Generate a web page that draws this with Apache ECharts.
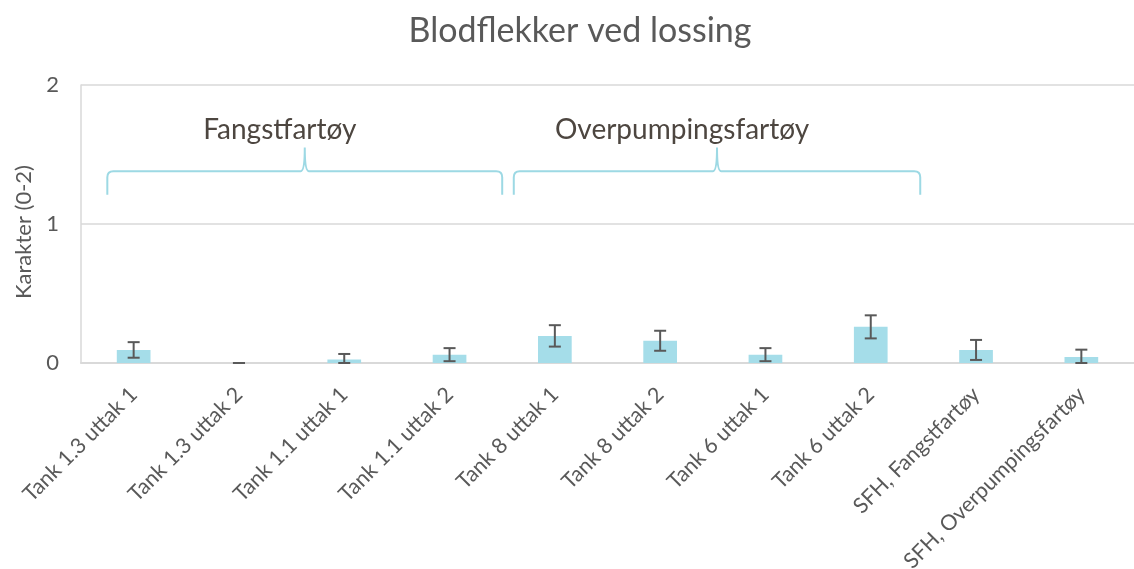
<!DOCTYPE html>
<html><head><meta charset="utf-8">
<script src="https://cdn.jsdelivr.net/npm/echarts@6/dist/echarts.min.js"></script>
<style>html,body{margin:0;padding:0;background:#fff}#c{width:1134px;height:569px}</style>
</head><body><div id="c"></div>
<script>
const categories = ["Tank 1.3 uttak 1","Tank 1.3 uttak 2","Tank 1.1 uttak 1","Tank 1.1 uttak 2","Tank 8 uttak 1","Tank 8 uttak 2","Tank 6 uttak 1","Tank 6 uttak 2","SFH, Fangstfartøy","SFH, Overpumpingsfartøy"];
const means = [0.094, 0.0, 0.025, 0.06, 0.195, 0.16, 0.06, 0.26, 0.094, 0.043];
const errors = [0.056, 0.0, 0.04, 0.047, 0.077, 0.072, 0.047, 0.083, 0.072, 0.053];
const yTicks = [0, 1, 2];
const groupLabels = ["Fangstfartøy", "Overpumpingsfartøy"];
// brace spans in category units: [start, end]
const braceSpans = [[-0.25, 3.5], [3.61, 7.47]];

const FONT = "Lato";
const TXT = "#595959";
const BAR = "#a5dde9";
const BRACE = "#9dd9e4";

const errData = categories.map((c, i) => [i, Math.max(0, means[i] - errors[i]), means[i] + errors[i]]);
const braceData = braceSpans.map((s, k) => [s[0], s[1], k]);

function bracePath(x1, x2, yTop, yBottom, yPeak) {
  const xm = (x1 + x2) / 2, r = 6;
  return `M${x1},${yBottom} L${x1},${yTop + r} Q${x1},${yTop} ${x1 + r},${yTop} L${xm - 4},${yTop} Q${xm},${yTop} ${xm},${yPeak} Q${xm},${yTop} ${xm + 4},${yTop} L${x2 - r},${yTop} Q${x2},${yTop} ${x2},${yTop + r} L${x2},${yBottom}`;
}

const chart = echarts.init(document.getElementById('c'), null, {renderer: 'canvas'});
chart.setOption({
  animation: false,
  textStyle: {fontFamily: FONT},
  title: {text: "Blodflekker ved lossing", left: 575, textAlign: 'center', top: 9,
    textStyle: {fontFamily: FONT, fontSize: 34, fontWeight: 'normal', color: TXT}},
  grid: {left: 81, right: 0, top: 85, bottom: 206, show: false, containLabel: false, outerBoundsMode: 'none'},
  xAxis: {type: 'category', data: categories,
    axisLine: {show: true, lineStyle: {color: '#d9d9d9', width: 2}},
    axisTick: {show: false},
    axisLabel: {rotate: 45, interval: 0, margin: 28, fontSize: 21.5, color: TXT, fontFamily: FONT}},
  yAxis: {type: 'value', min: 0, max: 2, interval: 1,
    name: "Karakter (0-2)", nameLocation: 'middle', nameGap: 46, nameRotate: 90,
    nameTextStyle: {fontSize: 22, color: TXT, fontFamily: FONT, padding: [0, 16, 0, 0]},
    axisLine: {show: true, lineStyle: {color: '#d9d9d9', width: 1.5}},
    axisTick: {show: false},
    splitLine: {show: true, lineStyle: {color: '#d9d9d9', width: 1.5}},
    axisLabel: {margin: 22, fontSize: 22, color: TXT, fontFamily: FONT,
      formatter: v => yTicks.includes(v) ? String(v) : ''}},
  series: [
    {type: 'bar', data: means, barWidth: '32%', itemStyle: {color: BAR}},
    {type: 'custom', data: errData, z: 5,
      renderItem: function (params, api) {
        const i = api.value(0);
        const lo = api.coord([i, api.value(1)]);
        const hi = api.coord([i, api.value(2)]);
        const w = 6;
        const st = {stroke: '#595959', lineWidth: 2};
        return {type: 'group', children: [
          {type: 'line', shape: {x1: hi[0], y1: hi[1], x2: lo[0], y2: lo[1]}, style: st},
          {type: 'line', shape: {x1: hi[0] - w, y1: hi[1], x2: hi[0] + w, y2: hi[1]}, style: st},
          {type: 'line', shape: {x1: lo[0] - w, y1: lo[1], x2: lo[0] + w, y2: lo[1]}, style: st}
        ]};
      }},
    {type: 'custom', data: braceData, z: 3, clip: false,
      renderItem: function (params, api) {
        const cw = api.size([1, 0])[0];
        const base = api.coord([0, 0]);
        const x1 = base[0] + api.value(0) * cw;
        const x2 = base[0] + api.value(1) * cw;
        const yTop = api.coord([0, 1.38])[1];
        const yBot = api.coord([0, 1.21])[1];
        const yPeak = api.coord([0, 1.55])[1];
        const k = api.value(2);
        return {type: 'group', children: [
          {type: 'path', shape: {pathData: bracePath(x1, x2, yTop, yBot, yPeak)},
            style: {fill: null, stroke: BRACE, lineWidth: 2}},
          {type: 'text', x: (x1 + x2) / 2 - (k === 0 ? 25 : 35), y: api.coord([0, 1.68])[1],
            style: {text: groupLabels[k], font: '28px Lato', fill: '#4d4640', textAlign: 'center', textVerticalAlign: 'middle'}}
        ]};
      }}
  ]
});
</script></body></html>
